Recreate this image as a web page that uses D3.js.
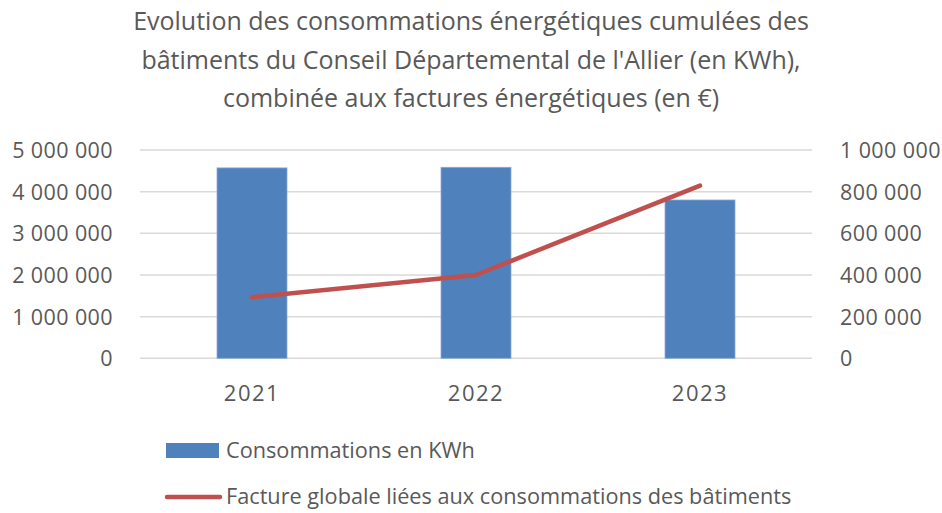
<!DOCTYPE html>
<html><head><meta charset="utf-8">
<script src="https://cdn.jsdelivr.net/npm/d3@7"></script>
<style>body{margin:0;background:#fff}svg{display:block}text{font-family:"Open Sans",Lato,sans-serif;fill:#595959}</style>
</head><body>
<script>
const titleLines = ["Evolution des consommations énergétiques cumulées des","bâtiments du Conseil Départemental de l'Allier (en KWh),","combinée aux factures énergétiques (en €)"];
const categories = ["2021","2022","2023"];
const consommations = [4570000, 4585000, 3800000];
const factures = [293000, 400000, 829000];
const leftTicks = [0,1000000,2000000,3000000,4000000,5000000];
const rightTicks = [0,200000,400000,600000,800000,1000000];
const seriesNames = ["Consommations en KWh","Facture globale liées aux consommations des bâtiments"];

const W=942,H=513;
const svg=d3.select("body").append("svg").attr("width",W).attr("height",H);
const x=d3.scaleBand().domain(categories).range([140,812]).paddingInner(0.6875).paddingOuter(0.34375);
const yL=d3.scaleLinear().domain([0,5000000]).range([358.3,150]);
const yR=d3.scaleLinear().domain([0,1000000]).range([358.3,150]);
const fmt=v=>d3.format(",")(v).replace(/,/g," ");
const FF='"Open Sans",sans-serif';

svg.append("g").selectAll("text").data(titleLines).join("text")
 .attr("x",471).attr("y",(d,i)=>30+i*38.5).attr("text-anchor","middle").style("font-size","25px").text(d=>d);

svg.append("g").selectAll("line").data(leftTicks).join("line")
 .attr("x1",140).attr("x2",812).attr("y1",d=>yL(d)).attr("y2",d=>yL(d))
 .attr("stroke","#D9D9D9").attr("stroke-width",1.5);

const axL=svg.append("g").attr("transform","translate(113,0)").call(d3.axisLeft(yL).tickValues(leftTicks).tickFormat(fmt).tickSize(0).tickPadding(0));
axL.select(".domain").remove();
axL.selectAll("text").style("font-size","21.5px").style("letter-spacing","0.4px").style("font-family",FF).attr("fill","#595959").attr("dy","0.35em");

const axR=svg.append("g").attr("transform","translate(840,0)").call(d3.axisRight(yR).tickValues(rightTicks).tickFormat(fmt).tickSize(0).tickPadding(0));
axR.select(".domain").remove();
axR.selectAll("text").style("font-size","21.5px").style("letter-spacing","0.4px").style("font-family",FF).attr("fill","#595959").attr("dy","0.35em");

const axB=svg.append("g").attr("transform","translate(0,358.3)").call(d3.axisBottom(x).tickSize(0).tickPadding(27));
axB.select(".domain").remove();
axB.selectAll("text").style("font-size","22px").style("letter-spacing","1.5px").style("font-family",FF).attr("fill","#595959");

svg.append("g").selectAll("rect").data(consommations).join("rect")
 .attr("x",(d,i)=>x(categories[i])).attr("width",x.bandwidth())
 .attr("y",d=>yL(d)).attr("height",d=>yL(0)-yL(d))
 .attr("fill","#4F81BD").attr("stroke","#8AAAD6").attr("stroke-width",0.8);

const line=d3.line().x((d,i)=>x(categories[i])+x.bandwidth()/2).y(d=>yR(d));
svg.append("path").datum(factures).attr("d",line).attr("fill","none")
 .attr("stroke","#C0504D").attr("stroke-width",4.5).attr("stroke-linecap","round").attr("stroke-linejoin","round");

const lg=svg.append("g");
lg.append("rect").attr("x",166).attr("y",443).attr("width",53).attr("height",15).attr("fill","#4F81BD");
lg.append("text").attr("x",226).attr("y",458).style("font-size","21.7px").text(seriesNames[0]);
lg.append("line").attr("x1",167).attr("x2",220).attr("y1",497).attr("y2",497).attr("stroke","#C0504D").attr("stroke-width",4.5).attr("stroke-linecap","round");
lg.append("text").attr("x",226).attr("y",504).style("font-size","21.7px").text(seriesNames[1]);
</script>
</body></html>
